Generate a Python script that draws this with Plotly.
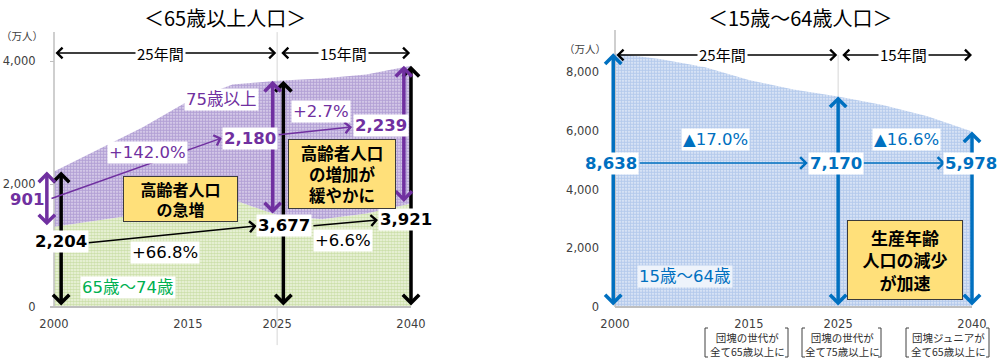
import plotly.graph_objects as go

# ---------------- data ----------------
years = [2000, 2005, 2010, 2015, 2020, 2025, 2030, 2035, 2040]
age_65_74 = [1303, 1407, 1517, 1734, 1747, 1497, 1428, 1522, 1682]
age_75_plus = [901, 1160, 1408, 1613, 1872, 2180, 2288, 2260, 2239]
age_15_64 = [8638, 8442, 8173, 7728, 7406, 7170, 6875, 6494, 5978]
total_65 = [a + b for a, b in zip(age_65_74, age_75_plus)]

x_tick_vals = [2000, 2015, 2025, 2040]
x_tick_text = ["2000", "2015", "2025", "2040"]
left_y_ticks = [0, 2000, 4000]
left_y_text = ["0", "2,000", "4,000"]
right_y_ticks = [0, 2000, 4000, 6000, 8000]
right_y_text = ["0", "2,000", "4,000", "6,000", "8,000"]

notes = [
    (2015, "団塊の世代が<br>全て65歳以上に"),
    (2025, "団塊の世代が<br>全て75歳以上に"),
    (2040, "団塊ジュニアが<br>全て65歳以上に"),
]

# ---------------- style ----------------
JP = "Noto Sans CJK JP"
NUM = "DejaVu Sans"
BLACK = "#000000"
PURPLE = "#7030a0"
GREEN = "#00b050"
BLUE = "#0070c0"
AXIS_GRAY = "#bfbfbf"
TICK_COL = "#404040"
YELLOW = "#ffe07a"

PX_YR = 357 / 40.0
L_SCALE = 0.0615      # px per unit, left
R_SCALE = 0.029375    # px per unit, right

def i2(i):
    return years.index(i)

fig = go.Figure()

fig.add_trace(go.Scatter(
    x=years, y=age_65_74, mode="lines", line=dict(width=0, color="rgba(0,0,0,0)"),
    fill="tozeroy", fillcolor="#e0ecca",
    fillpattern=dict(shape=".", fgcolor="#a8c772", bgcolor="#f1f7e4", size=3, solidity=0.65),
    hoverinfo="skip", xaxis="x", yaxis="y"))
fig.add_trace(go.Scatter(
    x=years, y=total_65, mode="lines", line=dict(width=0, color="rgba(0,0,0,0)"),
    fill="tonexty", fillcolor="#c4b6e0",
    fillpattern=dict(shape=".", fgcolor="#8063b8", bgcolor="#e6def2", size=3, solidity=0.7),
    hoverinfo="skip", xaxis="x", yaxis="y"))
fig.add_trace(go.Scatter(
    x=years, y=age_15_64, mode="lines", line=dict(width=0, color="rgba(0,0,0,0)"),
    fill="tozeroy", fillcolor="#c3d4f0",
    fillpattern=dict(shape=".", fgcolor="#80a3de", bgcolor="#eaf0fa", size=3, solidity=0.68),
    hoverinfo="skip", xaxis="x2", yaxis="y2"))

tickfont = dict(family=NUM, size=11.5, color=TICK_COL)
fig.update_layout(
    width=1000, height=362, margin=dict(l=0, r=0, t=0, b=0),
    paper_bgcolor="white", plot_bgcolor="rgba(0,0,0,0)", showlegend=False,
    xaxis=dict(domain=[0, 0.5], range=[2000 - 54 / PX_YR, 2000 - 54 / PX_YR + 500 / PX_YR],
               anchor="free", position=55 / 362, showgrid=False, zeroline=False, showline=False,
               tickvals=x_tick_vals, ticktext=x_tick_text, ticks="", ticklabelstandoff=8,
               tickfont=tickfont),
    yaxis=dict(domain=[0, 1], range=[-55 / L_SCALE, 307 / L_SCALE], anchor="free", position=0.054,
               showgrid=False, zeroline=False, showline=False,
               tickvals=left_y_ticks, ticktext=left_y_text, ticks="outside", ticklen=4,
               tickcolor=AXIS_GRAY, ticklabelstandoff=12, tickfont=tickfont),
    xaxis2=dict(domain=[0.5, 1], range=[2000 - 115 / PX_YR, 2000 - 115 / PX_YR + 500 / PX_YR],
                anchor="free", position=55 / 362, showgrid=False, zeroline=False, showline=False,
                tickvals=x_tick_vals, ticktext=x_tick_text, ticks="", ticklabelstandoff=8,
                tickfont=tickfont),
    yaxis2=dict(domain=[0, 1], range=[-55 / R_SCALE, 307 / R_SCALE], anchor="free", position=0.615,
                showgrid=False, zeroline=False, showline=False,
                tickvals=right_y_ticks, ticktext=right_y_text, ticks="", ticklabelstandoff=16,
                tickfont=tickfont),
)

shapes = []
# axis lines
shapes.append(dict(type="line", xref="x", yref="y", x0=2000, x1=2000, y0=0, y1=4470,
                   line=dict(color=AXIS_GRAY, width=1.5)))
shapes.append(dict(type="line", xref="x", yref="y", x0=2000 - 4 / PX_YR, x1=2040, y0=0, y1=0,
                   line=dict(color=AXIS_GRAY, width=2)))
shapes.append(dict(type="line", xref="x", yref="y", x0=2025, x1=2025, y0=-620, y1=4470,
                   line=dict(color="#d6d6d6", width=1), layer="below"))
shapes.append(dict(type="line", xref="x2", yref="y2", x0=2000, x1=2000, y0=0, y1=9430,
                   line=dict(color=AXIS_GRAY, width=1.5)))
shapes.append(dict(type="line", xref="x2", yref="y2", x0=2000, x1=2040, y0=0, y1=0,
                   line=dict(color=AXIS_GRAY, width=2)))
shapes.append(dict(type="line", xref="x2", yref="y2", x0=2025, x1=2025, y0=0, y1=8580,
                   line=dict(color="#d6d6d6", width=1), layer="below"))

# brackets around notes
for (yr, _txt), (xl, xr) in zip(notes, [(705, 788), (802, 881), (906, 989)]):
    y0 = 1 - 357 / 362
    y1 = 1 - 328 / 362
    a = xl / 1000
    b = xr / 1000
    d = 3 / 1000
    shapes.append(dict(type="path", xref="paper", yref="paper",
                       path=f"M {a+d},{y1} L {a},{y1} L {a},{y0} L {a+d},{y0}",
                       line=dict(color="#404040", width=1)))
    shapes.append(dict(type="path", xref="paper", yref="paper",
                       path=f"M {b-d},{y1} L {b},{y1} L {b},{y0} L {b-d},{y0}",
                       line=dict(color="#404040", width=1)))
fig.update_layout(shapes=shapes)

ann = []

def arrow(ax_, ay_, x0, y0, x1, y1, color, width, size, both=False):
    d = dict(xref=ax_, yref=ay_, axref=ax_, ayref=ay_, x=x1, y=y1, ax=x0, ay=y0,
             text="", showarrow=True, arrowhead=4, arrowsize=size, arrowwidth=width,
             arrowcolor=color, standoff=0, startstandoff=0, font=dict(size=1))
    if both:
        d.update(arrowside="end+start", startarrowhead=4, startarrowsize=size)
    ann.append(d)

def label(ax_, ay_, x, y, text, color, size, bold=False, bg=None, family=NUM):
    t = f"<b>{text}</b>" if bold else text
    d = dict(xref=ax_, yref=ay_, x=x, y=y, text=t, showarrow=False,
             font=dict(family=family, size=size, color=color), xanchor="center", yanchor="middle",
             borderpad=1)
    if bg:
        d["bgcolor"] = bg
    ann.append(d)

def box(ax_, ay_, x, y, text, size, w, h):
    ann.append(dict(xref=ax_, yref=ay_, x=x, y=y, text=f"<b>{text}</b>", showarrow=False,
                    font=dict(family=JP, size=size, color="#000000"), bgcolor=YELLOW,
                    bordercolor="#3a3a3a", borderwidth=1, borderpad=0, width=w, height=h,
                    align="center", valign="middle", xanchor="center", yanchor="middle"))

# ---- left chart ----
i00, i25, i40 = i2(2000), i2(2025), i2(2040)
P_Y_L = 4130
arrow("x", "y", 2000, P_Y_L, 2024.9, P_Y_L, BLACK, 1.3, 1.6, both=True)
arrow("x", "y", 2025.3, P_Y_L, 2039.9, P_Y_L, BLACK, 1.3, 1.6, both=True)

for xv, i in [(2000.8, i00), (2025.7, i25), (2040.0, i40)]:
    arrow("x", "y", xv, 0, xv, total_65[i], BLACK, 3.5, 0.9, both=True)
for xv, i in [(1999.2, i00), (2024.5, i25), (2039.2, i40)]:
    arrow("x", "y", xv, age_65_74[i], xv, total_65[i], PURPLE, 3.5, 0.9, both=True)

arrow("x", "y", 1999.55, 1756, 2018.8, 2748, PURPLE, 1.5, 1.4)
arrow("x", "y", 2025.0, 2797, 2033.4, 2927, PURPLE, 1.5, 1.4)
arrow("x", "y", 2003.7, 1041, 2022.7, 1317, BLACK, 1.5, 1.4)
arrow("x", "y", 2028.9, 1317, 2036.3, 1415, BLACK, 1.5, 1.4)

label("x", "y", 2011.9, P_Y_L, "25年間", "#000000", 15, bg="white", family=JP)
label("x", "y", 2032.4, P_Y_L, "15年間", "#000000", 15, bg="white", family=JP)

pct_75_a = (age_75_plus[i25] / age_75_plus[i00] - 1) * 100
pct_75_b = (age_75_plus[i40] / age_75_plus[i25] - 1) * 100
pct_65_a = (total_65[i25] / total_65[i00] - 1) * 100
pct_65_b = (total_65[i40] / total_65[i25] - 1) * 100

label("x", "y", 2010.5, 2520, f"+{pct_75_a:.1f}%", PURPLE, 16.5, bg="white")
label("x", "y", 2029.9, 3171, f"+{pct_75_b:.1f}%", PURPLE, 16.5, bg="white")
label("x", "y", 2012.4, 894, f"+{pct_65_a:.1f}%", "#000000", 16.5, bg="white")
label("x", "y", 2032.4, 1089, f"+{pct_65_b:.1f}%", "#000000", 16.5, bg="white")

label("x", "y", 2018.8, 3366, "75歳以上", PURPLE, 16.5, bg="white", family=f"{NUM}, {JP}")
label("x", "y", 2008.3, 325, "65歳～74歳", GREEN, 16.5, bg="white", family=f"{NUM}, {JP}")

label("x", "y", 1997.0, 1756, f"{age_75_plus[i00]:,}", PURPLE, 16.5, bold=True)
label("x", "y", 2000.8, 1057, f"{total_65[i00]:,}", "#000000", 16.5, bold=True, bg="white")
label("x", "y", 2021.96, 2748, f"{age_75_plus[i25]:,}", PURPLE, 16.5, bold=True, bg="white")
label("x", "y", 2036.6, 2959, f"{age_75_plus[i40]:,}", PURPLE, 16.5, bold=True, bg="white")
label("x", "y", 2025.8, 1333, f"{total_65[i25]:,}", "#000000", 16.5, bold=True, bg="white")
label("x", "y", 2039.4, 1415, f"{total_65[i40]:,}", "#000000", 16.5, bold=True, bg="white")

box("x", "y", 2014.2, 1756, "高齢者人口<br>の急増", 16, 113, 44)
box("x", "y", 2032.3, 2163, "高齢者人口<br>の増加が<br>緩やかに", 16.5, 106, 68)

# ---- right chart ----
P_Y_R = 8579
arrow("x2", "y2", 2000, P_Y_R, 2024.9, P_Y_R, BLACK, 1.3, 1.6, both=True)
arrow("x2", "y2", 2025.3, P_Y_R, 2040.0, P_Y_R, BLACK, 1.3, 1.6, both=True)
for xv, i in [(1999.8, i00), (2025.0, i25), (2040.0, i40)]:
    arrow("x2", "y2", xv, 0, xv, age_15_64[i], BLUE, 3.5, 0.9, both=True)
VAL_Y = 4902
arrow("x2", "y2", 2002.6, VAL_Y, 2021.6, VAL_Y, BLUE, 1.5, 1.5)
arrow("x2", "y2", 2027.7, VAL_Y, 2037.0, VAL_Y, BLUE, 1.5, 1.5)

label("x2", "y2", 2012.1, P_Y_R, "25年間", "#000000", 15, bg="white", family=JP)
label("x2", "y2", 2032.3, P_Y_R, "15年間", "#000000", 15, bg="white", family=JP)

dec_a = (1 - age_15_64[i25] / age_15_64[i00]) * 100
dec_b = (1 - age_15_64[i40] / age_15_64[i25]) * 100
label("x2", "y2", 2011.3, 5719, f"▲{dec_a:.1f}%", BLUE, 16.5, bg="white", family=f"{NUM}, {JP}")
label("x2", "y2", 2032.7, 5719, f"▲{dec_b:.1f}%", BLUE, 16.5, bg="white", family=f"{NUM}, {JP}")

label("x2", "y2", 1999.6, VAL_Y, f"{age_15_64[i00]:,}", BLUE, 16.5, bold=True, bg="white")
label("x2", "y2", 2024.76, VAL_Y, f"{age_15_64[i25]:,}", BLUE, 16.5, bold=True, bg="white")
label("x2", "y2", 2039.9, VAL_Y, f"{age_15_64[i40]:,}", BLUE, 16.5, bold=True, bg="white")

label("x2", "y2", 2007.8, 1055, "15歳～64歳", BLUE, 16.5, bg="#eef3fb", family=f"{NUM}, {JP}")
box("x2", "y2", 2032.5, 1600, "生産年齢<br>人口の減少<br>が加速", 17, 114, 78)

# ---- titles and units ----
label("paper", "paper", 0.225, 1 - 18 / 362, "＜65歳以上人口＞", "#000000", 20, family=JP)
label("paper", "paper", 0.800, 1 - 18 / 362, "＜15歳～64歳人口＞", "#000000", 20, family=JP)
label("paper", "paper", 0.022, 1 - 35 / 362, "（万人）", "#404040", 10.5, family=JP)
label("paper", "paper", 0.585, 1 - 48 / 362, "（万人）", "#404040", 10.5, family=JP)

for (yr, txt), cx in zip(notes, [747, 842, 948]):
    ann.append(dict(xref="paper", yref="paper", x=cx / 1000, y=1 - 344 / 362, text=txt,
                    showarrow=False, font=dict(family=JP, size=10.5, color="#303030"),
                    xanchor="center", yanchor="middle", align="center"))

fig.update_layout(annotations=ann)
fig.write_html("out.html")
